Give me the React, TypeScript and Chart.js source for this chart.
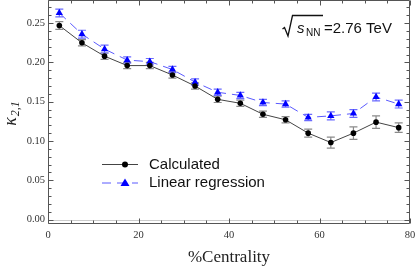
import React, { useEffect, useRef } from "react";
import { Chart, registerables } from "chart.js";

Chart.register(...registerables);

const centrality = [2.5, 7.5, 12.5, 17.5, 22.5, 27.5, 32.5, 37.5, 42.5, 47.5, 52.5, 57.5, 62.5, 67.5, 72.5, 77.5];
const calculated = [0.247, 0.225, 0.208, 0.196, 0.196, 0.184, 0.170, 0.153, 0.148, 0.134, 0.127, 0.110, 0.098, 0.110, 0.124, 0.117];
const calculatedErr = [0.005, 0.004, 0.004, 0.004, 0.004, 0.004, 0.004, 0.004, 0.004, 0.004, 0.004, 0.005, 0.007, 0.008, 0.008, 0.006];
const linearReg = [0.263, 0.236, 0.217, 0.203, 0.201, 0.191, 0.175, 0.162, 0.158, 0.149, 0.147, 0.130, 0.132, 0.135, 0.156, 0.147];
const linearErr = [0.005, 0.005, 0.005, 0.004, 0.004, 0.004, 0.004, 0.004, 0.004, 0.004, 0.004, 0.004, 0.005, 0.005, 0.005, 0.005];

const yTicks = [0, 0.05, 0.1, 0.15, 0.2, 0.25];
const yMinorStep = 0.01;
const xTicks = [0, 20, 40, 60, 80];
const xMinorStep = 5;

const seriesLabels = ["Calculated", "Linear regression"];
const energyLabel = "=2.76 TeV";

const BLACK_LINE = "#444444";
const BLACK_ERR = "#8a8a8a";
const BLUE = "#0000ff";
const BLUE_LINE = "#5a5aff";
const BLUE_ERR = "#6a6aff";
const FRAME = "#555555";
const TICK_FONT = "10.5px 'Liberation Serif', 'DejaVu Serif', serif";

const errorBars = {
  id: "errorBars",
  beforeDatasetsDraw(chart: any) {
    const ctx = chart.ctx;
    const xs = chart.scales.x;
    const ys = chart.scales.y;
    const sets = [
      { vals: calculated, errs: calculatedErr, color: BLACK_ERR },
      { vals: linearReg, errs: linearErr, color: BLUE_ERR },
    ];
    ctx.save();
    sets.forEach((s) => {
      ctx.strokeStyle = s.color;
      ctx.lineWidth = 1.2;
      s.vals.forEach((v, i) => {
        const px = xs.getPixelForValue(centrality[i]);
        const p1 = ys.getPixelForValue(v + s.errs[i]);
        const p2 = ys.getPixelForValue(v - s.errs[i]);
        ctx.beginPath();
        ctx.moveTo(px, p1);
        ctx.lineTo(px, p2);
        ctx.moveTo(px - 4, p1);
        ctx.lineTo(px + 4, p1);
        ctx.moveTo(px - 4, p2);
        ctx.lineTo(px + 4, p2);
        ctx.stroke();
      });
    });
    ctx.restore();
  },
};

const framePlugin = {
  id: "framePlugin",
  beforeDatasetsDraw(chart: any) {
    const ctx = chart.ctx;
    const a = chart.chartArea;
    const ys = chart.scales.y;
    ctx.save();
    const y0 = ys.getPixelForValue(0);
    ctx.strokeStyle = "#cccccc";
    ctx.lineWidth = 1;
    ctx.beginPath();
    ctx.moveTo(a.left, Math.round(y0) + 0.5);
    ctx.lineTo(a.right, Math.round(y0) + 0.5);
    ctx.stroke();
    ctx.restore();
  },
  afterDraw(chart: any) {
    const ctx = chart.ctx;
    const a = chart.chartArea;
    const xs = chart.scales.x;
    const ys = chart.scales.y;
    ctx.save();
    ctx.strokeStyle = FRAME;
    ctx.lineWidth = 1;
    const L = Math.round(a.left) + 0.5;
    const R = Math.round(a.right) - 0.5;
    const T = Math.round(a.top) + 0.5;
    const B = Math.round(a.bottom) - 0.5;
    ctx.beginPath();
    ctx.rect(L, T, R - L, B - T);
    ctx.stroke();
    ctx.beginPath();
    for (let v = xTicks[0]; v <= xTicks[xTicks.length - 1] + 1e-9; v += xMinorStep) {
      const major = xTicks.some((t) => Math.abs(t - v) < 1e-9);
      const len = major ? 5 : 3;
      const px = Math.round(xs.getPixelForValue(v)) + 0.5;
      ctx.moveTo(px, B);
      ctx.lineTo(px, B - len);
      ctx.moveTo(px, T);
      ctx.lineTo(px, T + len);
    }
    for (let k = 0; ; k++) {
      const v = k * yMinorStep;
      if (v > ys.max) break;
      const major = yTicks.some((t) => Math.abs(t - v) < 1e-9);
      const len = major ? 5 : 3;
      const py = Math.round(ys.getPixelForValue(v)) + 0.5;
      ctx.moveTo(L, py);
      ctx.lineTo(L + len, py);
      ctx.moveTo(R, py);
      ctx.lineTo(R - len, py);
    }
    ctx.stroke();

    // x tick labels
    ctx.fillStyle = "#333";
    ctx.font = TICK_FONT;
    ctx.textAlign = "center";
    ctx.textBaseline = "middle";
    xTicks.forEach((v) => {
      ctx.fillText(String(v), xs.getPixelForValue(v), a.bottom + 11.5);
    });
    ctx.textAlign = "left";

    // y-axis title: kappa_{2,1}
    ctx.save();
    ctx.translate(15.5, 113.5);
    ctx.rotate(-Math.PI / 2);
    ctx.fillStyle = "#222";
    ctx.textBaseline = "alphabetic";
    ctx.textAlign = "left";
    const bigFont = "italic 18px 'Liberation Serif', 'DejaVu Serif', serif";
    const smallFont = "italic 12px 'Liberation Serif', 'DejaVu Serif', serif";
    ctx.font = bigFont;
    const k = "\u03BA";
    const kw = ctx.measureText(k).width;
    ctx.font = smallFont;
    const sub = "2,1";
    const sw = ctx.measureText(sub).width;
    const total = kw + sw + 1;
    ctx.font = bigFont;
    ctx.fillText(k, -total / 2, 0);
    ctx.font = smallFont;
    ctx.fillText(sub, -total / 2 + kw + 1, 3);
    ctx.restore();

    // legend
    const lx1 = 102, lx2 = 138, lxm = 125;
    const ly1 = 164.5, ly2 = 183;
    ctx.strokeStyle = BLACK_LINE;
    ctx.lineWidth = 1;
    ctx.beginPath();
    ctx.moveTo(lx1, ly1);
    ctx.lineTo(lx2, ly1);
    ctx.stroke();
    ctx.fillStyle = "#000";
    ctx.beginPath();
    ctx.arc(lxm, ly1, 3, 0, Math.PI * 2);
    ctx.fill();
    ctx.strokeStyle = BLUE_LINE;
    ctx.setLineDash([9, 6]);
    ctx.beginPath();
    ctx.moveTo(lx1, ly2);
    ctx.lineTo(lx2, ly2);
    ctx.stroke();
    ctx.setLineDash([]);
    ctx.fillStyle = BLUE;
    ctx.beginPath();
    ctx.moveTo(lxm, ly2 - 4.5);
    ctx.lineTo(lxm + 4.5, ly2 + 3);
    ctx.lineTo(lxm - 4.5, ly2 + 3);
    ctx.closePath();
    ctx.fill();
    ctx.fillStyle = "#111";
    ctx.font = "15px 'Liberation Sans', Arial, sans-serif";
    ctx.textBaseline = "middle";
    ctx.fillText(seriesLabels[0], 149, ly1);
    ctx.fillText(seriesLabels[1], 149, ly2);

    // sqrt(s_NN) annotation
    ctx.strokeStyle = "#111";
    ctx.lineWidth = 1.3;
    ctx.beginPath();
    ctx.moveTo(282.5, 29);
    ctx.lineTo(284.5, 27.5);
    ctx.lineTo(288, 36);
    ctx.lineTo(292.5, 15.5);
    ctx.lineTo(323, 15.5);
    ctx.stroke();
    ctx.textBaseline = "alphabetic";
    ctx.fillStyle = "#111";
    ctx.font = "italic 15px 'Liberation Sans', Arial, sans-serif";
    ctx.fillText("s", 297, 33);
    ctx.font = "10px 'Liberation Sans', Arial, sans-serif";
    ctx.fillText("NN", 306, 35.5);
    ctx.font = "15px 'Liberation Sans', Arial, sans-serif";
    ctx.fillText(energyLabel, 324, 33);

    // x-axis title
    ctx.font = "17px 'Liberation Serif', 'DejaVu Serif', serif";
    ctx.textAlign = "center";
    ctx.textBaseline = "middle";
    ctx.fillStyle = "#222";
    ctx.fillText("%Centrality", (a.left + a.right) / 2, 257.5);
    ctx.restore();
  },
};

export default function App() {
  const ref = useRef<HTMLCanvasElement | null>(null);
  useEffect(() => {
    if (!ref.current) return;
    const chart = new Chart(ref.current, {
      type: "line",
      data: {
        datasets: [
          {
            label: seriesLabels[0],
            data: centrality.map((x, i) => ({ x, y: calculated[i] })),
            borderColor: BLACK_LINE,
            borderWidth: 1,
            pointStyle: "circle",
            pointRadius: 2.8,
            pointBackgroundColor: "#000",
            pointBorderColor: "#000",
            pointBorderWidth: 0,
            fill: false,
            tension: 0,
          },
          {
            label: seriesLabels[1],
            data: centrality.map((x, i) => ({ x, y: linearReg[i] })),
            borderColor: BLUE_LINE,
            borderWidth: 1,
            borderDash: [9, 6],
            pointStyle: "triangle",
            pointRadius: 4.2,
            pointBackgroundColor: BLUE,
            pointBorderColor: BLUE,
            pointBorderWidth: 0,
            fill: false,
            tension: 0,
          },
        ],
      },
      options: {
        animation: false,
        responsive: false,
        maintainAspectRatio: false,
        layout: { autoPadding: false, padding: { top: 0, right: 5, left: 0, bottom: 0 } },
        plugins: {
          legend: { display: false },
          tooltip: { enabled: false },
          title: { display: false },
        },
        scales: {
          x: {
            type: "linear",
            min: 0,
            max: 80,
            grid: { display: false, drawTicks: false, tickLength: 0 },
            border: { display: false },
            afterBuildTicks: (s: any) => {
              s.ticks = xTicks.map((v) => ({ value: v }));
            },
            afterFit: (s: any) => {
              s.height = 45;
              s.paddingLeft = 0;
              s.paddingRight = 0;
            },
            ticks: { display: false },
          },
          y: {
            type: "linear",
            min: -0.0057,
            max: 0.2795,
            grid: { display: false, drawTicks: false, tickLength: 0 },
            border: { display: false },
            afterBuildTicks: (s: any) => {
              s.ticks = yTicks.map((v) => ({ value: v }));
            },
            afterFit: (s: any) => {
              s.width = 48;
              s.paddingTop = 0;
              s.paddingBottom = 0;
            },
            ticks: {
              padding: 3,
              autoSkip: false,
              color: "#333",
              font: { family: "'Liberation Serif', 'DejaVu Serif', serif", size: 10.5 },
              callback: (v: any) => Number(v).toFixed(2),
            },
          },
        },
      },
      plugins: [framePlugin, errorBars],
    });
    return () => chart.destroy();
  }, []);
  return (
    <div style={{ position: "absolute", left: 0, top: 0, width: 415, height: 269, background: "#fff" }}>
      <canvas ref={ref} width={415} height={269} style={{ width: 415, height: 269 }} />
    </div>
  );
}
